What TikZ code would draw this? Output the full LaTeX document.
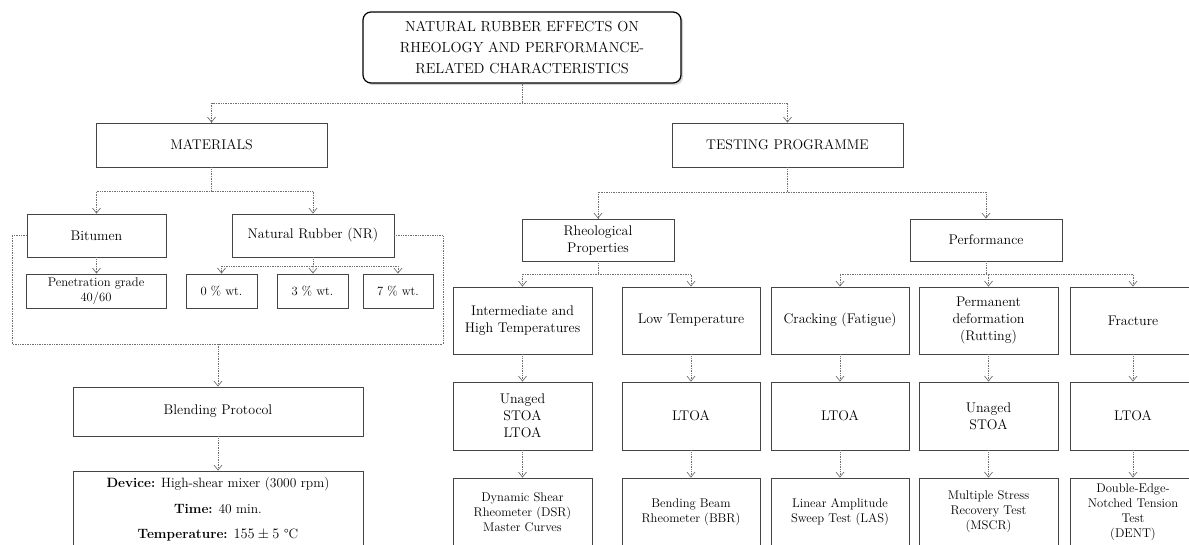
\documentclass[tikz,border=0pt]{standalone}
\usepackage{amsmath}
\usepackage{tikz}
\usetikzlibrary{arrows.meta}
\usetikzlibrary{shadows}
\definecolor{boxGray}{HTML}{454545}
\definecolor{lineGray}{HTML}{707070}

\begin{document}
\begin{tikzpicture}[x=1pt,y=-1pt,
  box/.style={draw=boxGray,line width=0.8pt,fill=white,inner sep=0pt,align=center,
    font=\fontsize{14}{17}\selectfont,
    drop shadow={shadow xshift=1pt,shadow yshift=-1pt,opacity=0.2}},
  smallbox/.style={box,font=\fontsize{12.6}{15}\selectfont},
  topbox/.style={draw=black,line width=1.2pt,rounded corners=8pt,fill=white,
    inner sep=0pt,align=center,font=\fontsize{14.5}{21}\selectfont,
    drop shadow={shadow xshift=2pt,shadow yshift=-2pt,opacity=0.35}},
  link/.style={draw=lineGray,densely dotted,line width=0.7pt,
    -{Straight Barb[length=5pt,width=8pt,line width=0.7pt]}},
  frame/.style={draw=lineGray,densely dotted,line width=0.7pt}]
  \useasboundingbox (0,0) rectangle (1189,544);

  %% top level
  \node at (522,47.5) [topbox,minimum width=318,minimum height=71] (title)
    {NATURAL RUBBER EFFECTS ON\\RHEOLOGY AND PERFORMANCE-\\RELATED CHARACTERISTICS};
  \node at (211.5,145) [box,minimum width=231,minimum height=44] (materials) {MATERIALS};
  \node at (787.5,145) [box,minimum width=231,minimum height=44] (testing) {TESTING PROGRAMME};

  \coordinate (titlesplit) at (522,103);
  \draw[link] (title) -- (titlesplit) -| (materials);
  \draw[link] (titlesplit) -| (testing);

  %% materials
  \node at (96.5,235.5) [box,minimum width=139,minimum height=43] (bitumen) {Bitumen};
  \node at (313,235.5) [box,minimum width=162,minimum height=43] (rubber) {Natural Rubber (NR)};

  \node at (96,291) [smallbox,minimum width=140,minimum height=34] (grade) {Penetration grade\\40/60};
  \node at (221.5,291) [smallbox,minimum width=71,minimum height=34] (wt0) {0 \% wt.};
  \node at (312.5,291) [smallbox,minimum width=71,minimum height=34] (wt3) {3 \% wt.};
  \node at (398,291) [smallbox,minimum width=70,minimum height=34] (wt7) {7 \% wt.};

  \coordinate (matsplit) at (211.5,191);
  \draw[link] (materials) -- (matsplit) -| (bitumen);
  \draw[link] (matsplit) -| (rubber);
  \draw[link] (bitumen) -- (bitumen |- grade.north);

  \coordinate (nrsplit) at (313,266);
  \draw[link] (rubber) -- (nrsplit) -| (wt0);
  \draw[link] (nrsplit) -- (wt3);
  \draw[link] (nrsplit) -| (wt7);

  % bracket round the materials
  \coordinate (frameleft) at (12,344);
  \coordinate (frameright) at (443,344);
  \draw[frame] (bitumen.west) -| (frameleft) -- (frameright) |- (rubber.east);

  % blending
  \node at (218,411.5) [box,minimum width=290,minimum height=49] (blending) {Blending Protocol};
  \node at (218,509.5) [box,minimum width=290,minimum height=77,
    font=\fontsize{13.5}{25.5}\selectfont] (device)
    {\textbf{Device:} High-shear mixer (3000 rpm)\\\textbf{Time:} 40 min.\\
     \textbf{Temperature:} $155\pm5$ \textdegree C};
  \draw[link] (blending |- frameleft) -- (blending);
  \draw[link] (blending) -- (device);

  %% testing programme
  \node at (598,240) [box,minimum width=152,minimum height=42] (rheo) {Rheological\\Properties};
  \node at (986,240) [box,minimum width=152,minimum height=42] (perf) {Performance};

  \coordinate (testsplit) at (787.5,192);
  \draw[link] (testing) -- (testsplit) -| (rheo);
  \draw[link] (testsplit) -| (perf);

  % properties
  \node at (522.5,320.5) [box,minimum width=139,minimum height=67] (inter) {Intermediate and\\High Temperatures};
  \node at (691,320.5) [box,minimum width=138,minimum height=67] (low) {Low Temperature};
  \node at (840,320.5) [box,minimum width=138,minimum height=67] (crack) {Cracking (Fatigue)};
  \node at (988.5,320.5) [box,minimum width=139,minimum height=67] (perm) {Permanent\\deformation\\(Rutting)};
  \node at (1133,320.5) [box,minimum width=126,minimum height=67] (fract) {Fracture};

  \coordinate (rheosplit) at (598,274);
  \draw[link] (rheo) -- (rheosplit) -| (inter);
  \draw[link] (rheosplit) -| (low);
  \coordinate (perfsplit) at (986,274);
  \draw[link] (perf) -- (perfsplit) -| (crack);
  \draw[link] (perfsplit) -| (perm);
  \draw[link] (perfsplit) -| (fract);

  % ageing
  \node at (522.5,416) [box,minimum width=139,minimum height=68] (interage) {Unaged\\STOA\\LTOA};
  \node at (691,416) [box,minimum width=138,minimum height=68] (lowage) {LTOA};
  \node at (840,416) [box,minimum width=138,minimum height=68] (crackage) {LTOA};
  \node at (988.5,416) [box,minimum width=139,minimum height=68] (permage) {Unaged\\STOA};
  \node at (1133,416) [box,minimum width=126,minimum height=68] (fractage) {LTOA};

  % tests
  \node at (522.5,512) [smallbox,minimum width=139,minimum height=68] (intertest) {Dynamic Shear\\Rheometer (DSR)\\Master Curves};
  \node at (691,512) [smallbox,minimum width=138,minimum height=68] (lowtest) {Bending Beam\\Rheometer (BBR)};
  \node at (840,512) [smallbox,minimum width=138,minimum height=68] (cracktest) {Linear Amplitude\\Sweep Test (LAS)};
  \node at (988.5,512) [smallbox,minimum width=139,minimum height=68] (permtest) {Multiple Stress\\Recovery Test\\(MSCR)};
  \node at (1133,512) [smallbox,minimum width=126,minimum height=68] (fracttest) {Double-Edge-\\Notched Tension\\Test\\(DENT)};

  \foreach \col in {inter,low,crack,perm,fract}{
    \draw[link] (\col) -- (\col age);
    \draw[link] (\col age) -- (\col test);
  }
\end{tikzpicture}
\end{document}
